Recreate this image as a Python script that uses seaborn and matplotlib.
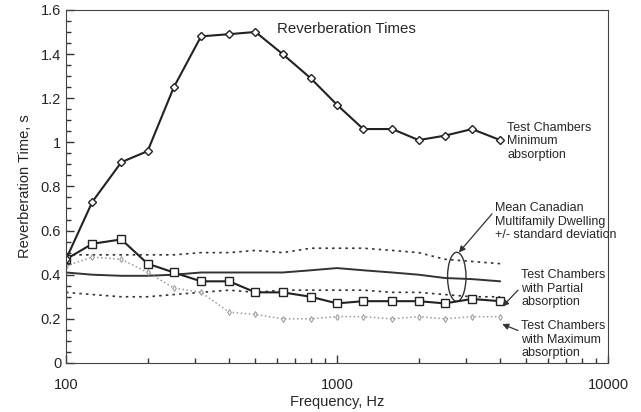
import numpy as np
import pandas as pd
import matplotlib
matplotlib.use('Agg')
import matplotlib.pyplot as plt
import seaborn as sns
from matplotlib.patches import Ellipse

# third-octave band centre frequencies, Hz
freqs = [100, 125, 160, 200, 250, 315, 400, 500, 630, 800,
         1000, 1250, 1600, 2000, 2500, 3150, 4000]

# reverberation times, s
rt_minimum = [0.47, 0.73, 0.91, 0.96, 1.25, 1.48, 1.49, 1.50, 1.40, 1.29,
              1.17, 1.06, 1.06, 1.01, 1.03, 1.06, 1.01]
rt_partial = [0.47, 0.54, 0.56, 0.45, 0.41, 0.37, 0.37, 0.32, 0.32, 0.30,
              0.27, 0.28, 0.28, 0.28, 0.27, 0.29, 0.28]
rt_maximum = [0.44, 0.48, 0.47, 0.41, 0.34, 0.32, 0.23, 0.22, 0.20, 0.20,
              0.21, 0.21, 0.20, 0.21, 0.20, 0.21, 0.21]
rt_mean = [0.41, 0.40, 0.395, 0.395, 0.40, 0.41, 0.41, 0.41, 0.41, 0.42,
           0.43, 0.42, 0.41, 0.40, 0.385, 0.38, 0.37]
rt_upper = [0.49, 0.49, 0.49, 0.49, 0.49, 0.50, 0.50, 0.51, 0.50, 0.52,
            0.52, 0.52, 0.51, 0.50, 0.47, 0.46, 0.45]
rt_lower = [0.32, 0.31, 0.30, 0.30, 0.31, 0.32, 0.33, 0.32, 0.33, 0.33,
            0.33, 0.33, 0.32, 0.32, 0.31, 0.30, 0.30]

df = pd.DataFrame({'freq': freqs, 'minimum': rt_minimum, 'partial': rt_partial,
                   'maximum': rt_maximum, 'mean': rt_mean,
                   'upper': rt_upper, 'lower': rt_lower})

sns.set_style('white', {'xtick.bottom': True, 'ytick.left': True,
                        'xtick.direction': 'in', 'ytick.direction': 'in'})
plt.rcParams['font.family'] = ['Liberation Sans', 'DejaVu Sans']
plt.rcParams['xtick.minor.visible'] = True

fig = plt.figure(figsize=(6.41, 4.12), dpi=100)
ax = fig.add_axes([0.103, 0.119, 0.8455, 0.857])

# mean +/- std
sns.lineplot(data=df, x='freq', y='upper', ax=ax, color='#333333', lw=1.2, linestyle=(0, (1.5, 2.5)))
sns.lineplot(data=df, x='freq', y='lower', ax=ax, color='#333333', lw=1.2, linestyle=(0, (1.5, 2.5)))
sns.lineplot(data=df, x='freq', y='mean', ax=ax, color='#333333', lw=1.4)
# max absorption
sns.lineplot(data=df, x='freq', y='maximum', ax=ax, color='#9a9a9a', lw=1.1, linestyle=':',
             marker='d', markersize=3, markerfacecolor='white', markeredgecolor='#9a9a9a')
# partial absorption
sns.lineplot(data=df, x='freq', y='partial', ax=ax, color='#222222', lw=1.5,
             marker='s', markersize=6, markerfacecolor='white', markeredgecolor='#222222',
             markeredgewidth=1)
# minimum absorption
sns.lineplot(data=df, x='freq', y='minimum', ax=ax, color='#222222', lw=1.5,
             marker='D', markersize=4, markerfacecolor='white', markeredgecolor='#222222',
             markeredgewidth=1)

ax.set_xscale('log')
ax.set_xlim(100, 10000)
ax.set_ylim(0, 1.6)
ax.set_yticks(np.arange(0, 1.61, 0.2))
ax.set_yticklabels(['0', '0.2', '0.4', '0.6', '0.8', '1', '1.2', '1.4', '1.6'])
ax.set_yticks(np.arange(0, 1.61, 0.05), minor=True)
ax.set_xticks([100, 1000, 10000])
ax.set_xticklabels(['100', '1000', '10000'])
ax.tick_params(axis='both', which='both', direction='in', labelsize=10.5,
               bottom=True, left=True, top=False, right=False,
               color='#333333', width=1.0)
ax.tick_params(axis='both', which='major', length=6)
ax.tick_params(axis='both', which='minor', length=3.5)
ax.tick_params(axis='x', which='minor', labelbottom=False)
ax.tick_params(axis='x', which='major', pad=11)
ax.set_xlabel('Frequency, Hz', fontsize=10.5, labelpad=2)
ax.set_ylabel('Reverberation Time, s', fontsize=10.5, labelpad=6)
for s in ax.spines.values():
    s.set_color('#444444')
    s.set_linewidth(0.8)

ax.text(0.517, 0.946, 'Reverberation Times', transform=ax.transAxes,
        ha='center', va='center', fontsize=10.8)

note = dict(ha='left', va='top', fontsize=9, linespacing=1.15)
arrow = dict(arrowstyle='-|>', color='#333333', lw=0.9, shrinkA=0, shrinkB=0)

ax.text(0.814, 0.683, 'Test Chambers\nMinimum\nabsorption', transform=ax.transAxes,
        clip_on=False, **note)

ax.annotate('Mean Canadian\nMultifamily Dwelling\n+/- standard deviation',
            xy=(0.725, 0.313), xycoords='axes fraction',
            xytext=(0.792, 0.455), textcoords='axes fraction',
            annotation_clip=False, arrowprops=dict(relpos=(0.0, 0.8), **arrow), **note)
ax.annotate('Test Chambers\nwith Partial\nabsorption',
            xy=(0.805, 0.16), xycoords='axes fraction',
            xytext=(0.84, 0.265), textcoords='axes fraction',
            annotation_clip=False, arrowprops=dict(relpos=(0.0, 0.55), **arrow), **note)
ax.annotate('Test Chambers\nwith Maximum\nabsorption',
            xy=(0.805, 0.11), xycoords='axes fraction',
            xytext=(0.84, 0.121), textcoords='axes fraction',
            annotation_clip=False, arrowprops=dict(relpos=(0.0, 0.7), **arrow), **note)

ax.add_patch(Ellipse((0.721, 0.244), 0.034, 0.139, transform=ax.transAxes,
                     fill=False, edgecolor='#333333', lw=1.0))

fig.savefig('out.png', dpi=100)
